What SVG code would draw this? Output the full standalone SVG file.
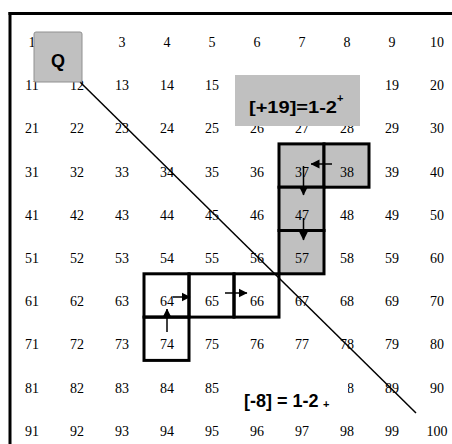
<svg xmlns="http://www.w3.org/2000/svg" width="452" height="444" viewBox="0 0 452 444">
<defs>
<style>
.n{font-family:"Liberation Serif","Times New Roman",serif;font-size:14px;fill:#000;text-anchor:middle}
.b{font-family:"Liberation Sans",Arial,sans-serif;font-weight:bold;fill:#000}
.cell{stroke:#000;stroke-width:3}
.g{fill:#c0c0c0}
.w{fill:none}
.c{stroke:#000;stroke-width:1.5;fill:none}
</style>
<marker id="ah" markerUnits="userSpaceOnUse" markerWidth="9" markerHeight="10" viewBox="0 0 9 10" refX="8.5" refY="5" orient="auto">
<path d="M0,0.5 L9,5 L0,9.5 Z" fill="#000"/>
</marker>
</defs>
<rect x="0" y="0" width="452" height="444" fill="#fff"/>
<g id="frame" stroke="#000" stroke-width="3">
<line x1="10" y1="12" x2="10" y2="444"/>
<line x1="8.5" y1="13.5" x2="452" y2="13.5"/>
</g>
<g id="cells-highlight">
<g id="c37"><rect class="cell g" x="279" y="143.9" width="45" height="43.3"/><text class="n" x="302" y="176.6">37</text></g>
<g id="c38"><rect class="cell g" x="324" y="143.9" width="45" height="43.3"/><text class="n" x="347" y="176.6">38</text></g>
<g id="c47"><rect class="cell g" x="279" y="187.2" width="45" height="43.3"/><text class="n" x="302" y="219.8">47</text></g>
<g id="c57"><rect class="cell g" x="279" y="230.5" width="45" height="43.3"/><text class="n" x="302" y="263">57</text></g>
<g id="c64"><rect class="cell w" x="144" y="273.8" width="45" height="43.3"/><text class="n" x="167" y="306.2">64</text></g>
<g id="c65"><rect class="cell w" x="189" y="273.8" width="45" height="43.3"/><text class="n" x="212" y="306.2">65</text></g>
<g id="c66"><rect class="cell w" x="234" y="273.8" width="45" height="43.3"/><text class="n" x="257" y="306.2">66</text></g>
<g id="c74"><rect class="cell w" x="144" y="317.1" width="45" height="43.3"/><text class="n" x="167" y="349.4">74</text></g>
</g>
<g id="grid-numbers">
<text class="n" x="32" y="47">1</text><text class="n" x="122" y="47">3</text><text class="n" x="167" y="47">4</text><text class="n" x="212" y="47">5</text><text class="n" x="257" y="47">6</text><text class="n" x="302" y="47">7</text><text class="n" x="347" y="47">8</text><text class="n" x="392" y="47">9</text><text class="n" x="437" y="47">10</text>
<text class="n" x="32" y="90.2">11</text><text class="n" x="77" y="90.2">12</text><text class="n" x="122" y="90.2">13</text><text class="n" x="167" y="90.2">14</text><text class="n" x="212" y="90.2">15</text><text class="n" x="392" y="90.2">19</text><text class="n" x="437" y="90.2">20</text>
<text class="n" x="32" y="133.4">21</text><text class="n" x="77" y="133.4">22</text><text class="n" x="122" y="133.4">23</text><text class="n" x="167" y="133.4">24</text><text class="n" x="212" y="133.4">25</text><text class="n" x="257" y="133.4">26</text><text class="n" x="302" y="133.4">27</text><text class="n" x="347" y="133.4">28</text><text class="n" x="392" y="133.4">29</text><text class="n" x="437" y="133.4">30</text>
<text class="n" x="32" y="176.6">31</text><text class="n" x="77" y="176.6">32</text><text class="n" x="122" y="176.6">33</text><text class="n" x="167" y="176.6">34</text><text class="n" x="212" y="176.6">35</text><text class="n" x="257" y="176.6">36</text><text class="n" x="392" y="176.6">39</text><text class="n" x="437" y="176.6">40</text>
<text class="n" x="32" y="219.8">41</text><text class="n" x="77" y="219.8">42</text><text class="n" x="122" y="219.8">43</text><text class="n" x="167" y="219.8">44</text><text class="n" x="212" y="219.8">45</text><text class="n" x="257" y="219.8">46</text><text class="n" x="347" y="219.8">48</text><text class="n" x="392" y="219.8">49</text><text class="n" x="437" y="219.8">50</text>
<text class="n" x="32" y="263">51</text><text class="n" x="77" y="263">52</text><text class="n" x="122" y="263">53</text><text class="n" x="167" y="263">54</text><text class="n" x="212" y="263">55</text><text class="n" x="257" y="263">56</text><text class="n" x="347" y="263">58</text><text class="n" x="392" y="263">59</text><text class="n" x="437" y="263">60</text>
<text class="n" x="32" y="306.2">61</text><text class="n" x="77" y="306.2">62</text><text class="n" x="122" y="306.2">63</text><text class="n" x="302" y="306.2">67</text><text class="n" x="347" y="306.2">68</text><text class="n" x="392" y="306.2">69</text><text class="n" x="437" y="306.2">70</text>
<text class="n" x="32" y="349.4">71</text><text class="n" x="77" y="349.4">72</text><text class="n" x="122" y="349.4">73</text><text class="n" x="212" y="349.4">75</text><text class="n" x="257" y="349.4">76</text><text class="n" x="302" y="349.4">77</text><text class="n" x="347" y="349.4">78</text><text class="n" x="392" y="349.4">79</text><text class="n" x="437" y="349.4">80</text>
<text class="n" x="32" y="392.6">81</text><text class="n" x="77" y="392.6">82</text><text class="n" x="122" y="392.6">83</text><text class="n" x="167" y="392.6">84</text><text class="n" x="212" y="392.6">85</text><text class="n" x="347" y="392.6">88</text><text class="n" x="392" y="392.6">89</text><text class="n" x="437" y="392.6">90</text>
<text class="n" x="32" y="435.8">91</text><text class="n" x="77" y="435.8">92</text><text class="n" x="122" y="435.8">93</text><text class="n" x="167" y="435.8">94</text><text class="n" x="212" y="435.8">95</text><text class="n" x="257" y="435.8">96</text><text class="n" x="302" y="435.8">97</text><text class="n" x="347" y="435.8">98</text><text class="n" x="392" y="435.8">99</text><text class="n" x="437" y="435.8">100</text>
</g>
<g id="label-plus19">
<rect x="235" y="75" width="125" height="51" fill="#c0c0c0"/>
<text class="b" x="249" y="113" font-size="17" textLength="88" lengthAdjust="spacingAndGlyphs">[+19]=1-2</text>
<text class="b" x="337" y="102" font-size="11">+</text>
</g>
<g id="label-minus8">
<rect x="228" y="374" width="120" height="42" fill="#fff"/>
<text class="b" x="244" y="407" font-size="18">[-8] = 1-2</text>
<text class="b" x="323" y="408" font-size="11">+</text>
</g>
<g id="connectors">
<line class="c" x1="80" y1="82" x2="416" y2="413"/>
<line class="c" x1="332" y1="164" x2="311" y2="164" marker-end="url(#ah)"/>
<line class="c" x1="303.5" y1="166" x2="303.5" y2="195" marker-end="url(#ah)"/>
<line class="c" x1="303.5" y1="218" x2="303.5" y2="240" marker-end="url(#ah)"/>
<line class="c" x1="167" y1="332" x2="167" y2="309" marker-end="url(#ah)"/>
<line class="c" x1="173" y1="297" x2="190" y2="297" marker-end="url(#ah)"/>
<line class="c" x1="225" y1="293" x2="247" y2="293" marker-end="url(#ah)"/>
</g>
<g id="Q">
<rect x="34" y="32" width="48" height="50" rx="2" fill="#c0c0c0" stroke="#909090" stroke-width="1"/>
<text class="b" x="58" y="67" font-size="18" text-anchor="middle">Q</text>
</g>
</svg>
